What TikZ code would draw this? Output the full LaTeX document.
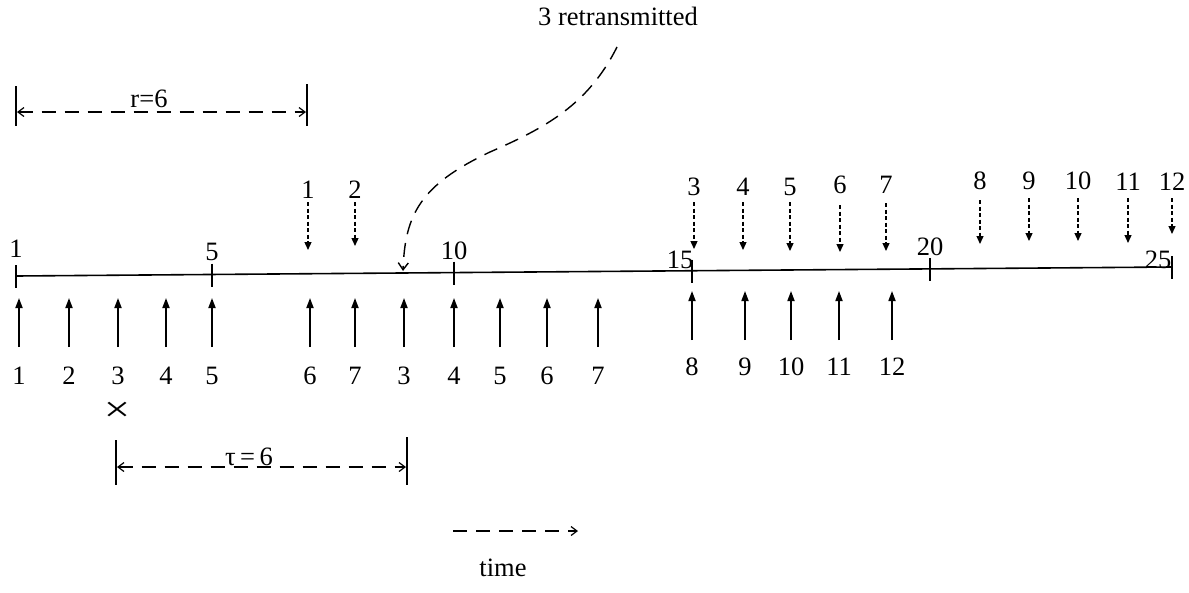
\documentclass[tikz,border=0pt]{standalone}
\usepackage{fontspec}
\setmainfont{Liberation Serif}
\usetikzlibrary{arrows.meta}
\begin{document}
\begin{tikzpicture}[x=1pt,y=-1pt,
 lbl/.style={font=\fontsize{26.5}{30}\selectfont, inner sep=0pt},
 axis/.style={line width=1.6pt},
 tickmark/.style={line width=1.3pt},
 uparrow/.style={line width=1.7pt,-{Triangle[length=10pt,width=7pt]}},
 downarrow/.style={line width=1.3pt,dash pattern=on 4pt off 2.5pt,-{Triangle[length=8pt,width=7pt]}},
 dimline/.style={line width=1.2pt,dash pattern=on 14pt off 9pt,{Straight Barb[length=6pt,width=9pt]}-{Straight Barb[length=6pt,width=9pt]}},
 dimend/.style={line width=1.2pt},
 curvearrow/.style={line width=1.4pt,dash pattern=on 14pt off 9pt,-{Straight Barb[length=7pt,width=10pt]}},
 timearrow/.style={line width=1.2pt,dash pattern=on 14pt off 9pt,-{Straight Barb[length=6pt,width=9pt]}}]
\useasboundingbox (0,0) rectangle (1189,592);

% main time axis
\coordinate (ax0) at (16,276);
\coordinate (ax1) at (1172,267);
\draw[axis] (ax0) -- (ax1);
\foreach \x/\y/\n/\lx/\ly in {16/276/1/16/249, 212/274.5/5/212/252, 454/272.6/10/454/251, 692/270.7/15/680/260, 930/268.9/20/930/247, 1172/267/25/1158/260}{
  \coordinate (ta\n) at (\x,\y-11);
  \coordinate (tb\n) at (\x,\y+12);
  \draw[tickmark] (ta\n) -- (tb\n);
  \node[lbl] (tl\n) at (\lx,\ly) {\n};
}

% bottom (sent) arrows
\foreach \x/\n/\k in {19/1/1, 69/2/2, 118/3/3, 166/4/4, 212/5/5, 310/6/6, 355/7/7, 404/3/8, 454/4/9, 500/5/10, 547/6/11, 598/7/12}{
  \coordinate (ub\k) at (\x,347);
  \coordinate (ut\k) at (\x,298);
  \draw[uparrow] (ub\k) -- (ut\k);
  \node[lbl] (ul\k) at (\x,376) {\n};
}
\foreach \x/\n/\k in {692/8/13, 745/9/14, 791/10/15, 839/11/16, 892/12/17}{
  \coordinate (ub\k) at (\x,340);
  \coordinate (ut\k) at (\x,291);
  \draw[uparrow] (ub\k) -- (ut\k);
  \node[lbl] (ul\k) at (\x,367) {\n};
}

% top (acknowledgement) dashed arrows
\foreach \x/\n/\k/\ly/\ya/\yb in {308/1/1/190/202/250, 355/2/2/190/202/246, 694/3/3/187/202/249, 743/4/4/187/202/250, 790/5/5/187/202/251, 840/6/6/185/205/252, 886/7/7/185/203/251, 980/8/8/181/200/244, 1029/9/9/181/198/241, 1078/10/10/181/198/241, 1128/11/11/182/198/243, 1172/12/12/182/198/234}{
  \node[lbl] (dl\k) at (\x,\ly) {\n};
  \coordinate (da\k) at (\x,\ya);
  \coordinate (db\k) at (\x,\yb);
  \draw[downarrow] (da\k) -- (db\k);
}

% r = 6
\coordinate (ra1) at (16,86); \coordinate (ra2) at (16,126);
\coordinate (rb1) at (307,84); \coordinate (rb2) at (307,126);
\draw[dimend] (ra1) -- (ra2);
\draw[dimend] (rb1) -- (rb2);
\coordinate (rl) at (17,112); \coordinate (rr) at (306,112);
\draw[dimline] (rl) -- (rr);
\node[lbl] (rlab) at (149,99) {r=6};

% tau = 6
\node[lbl,font=\fontsize{36}{38}\selectfont,xscale=1.3] (cross) at (117,412) {×};
\coordinate (ta1) at (116,440); \coordinate (ta2) at (116,485);
\coordinate (tb1) at (407,437); \coordinate (tb2) at (407,485);
\draw[dimend] (ta1) -- (ta2);
\draw[dimend] (tb1) -- (tb2);
\coordinate (tl) at (117,467); \coordinate (tr) at (406,467);
\draw[dimline] (tl) -- (tr);
\node[lbl,fill=white,inner xsep=2pt] (taulab) at (249,457) {τ\,=\,6};

% retransmission
\node[lbl] (retx) at (618,16) {3 retransmitted};
\coordinate (cstart) at (617,47);
\coordinate (cmid) at (490,152);
\coordinate (cend) at (403,271);
\draw[curvearrow] (cstart) .. controls (588,105) and (545,128) .. (cmid) .. controls (420,185) and (405,215) .. (cend);

% time arrow
\coordinate (tm1) at (453,531);
\coordinate (tm2) at (578,531);
\draw[timearrow] (tm1) -- (tm2);
\node[lbl] (time) at (503,568) {time};
\end{tikzpicture}
\end{document}
